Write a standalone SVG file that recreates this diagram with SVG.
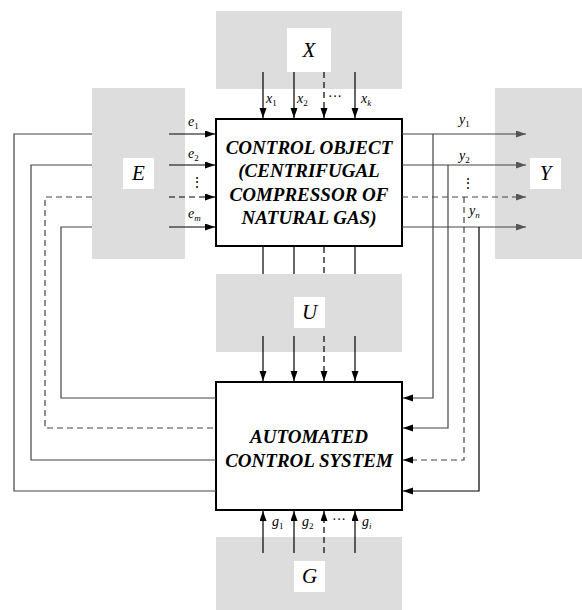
<svg xmlns="http://www.w3.org/2000/svg" width="582" height="610" viewBox="0 0 582 610">
<defs>
<style>
.gray{fill:#dddddd}
.lbl{fill:#ffffff}
.ln{stroke:#000;stroke-width:1.2;fill:none}
.gr{stroke:#444}
.d{stroke-dasharray:6,4}
.box{fill:#fff;stroke:#000;stroke-width:2}
</style>
<marker id="ah" markerUnits="userSpaceOnUse" markerWidth="11" markerHeight="8" refX="10" refY="3.5" orient="auto">
<path d="M0,0 L10,3.5 L0,7 z" fill="#000"/>
</marker>
<marker id="ahg" markerUnits="userSpaceOnUse" markerWidth="11" markerHeight="8" refX="10" refY="3.5" orient="auto">
<path d="M0,0 L10,3.5 L0,7 z" fill="#555"/>
</marker>
</defs>

<g id="X">
<rect class="gray" x="216" y="11" width="186" height="78"/>
<rect class="lbl" x="287" y="28" width="44" height="44"/>
<text x="309" y="57" font-family="Liberation Serif" font-style="italic" font-size="21" text-anchor="middle">X</text>
</g>
<g id="E">
<rect class="gray" x="92" y="88" width="93" height="171"/>
<rect class="lbl" x="123" y="158" width="31" height="31"/>
<text x="138.5" y="180" font-family="Liberation Serif" font-style="italic" font-size="21" text-anchor="middle">E</text>
</g>
<g id="Y">
<rect class="gray" x="495" y="88" width="87" height="171"/>
<rect class="lbl" x="530" y="158" width="31" height="31"/>
<text x="545.5" y="180" font-family="Liberation Serif" font-style="italic" font-size="21" text-anchor="middle">Y</text>
</g>
<g id="U">
<rect class="gray" x="216" y="274" width="186" height="78"/>
<rect class="lbl" x="294" y="297" width="31" height="31"/>
<text x="309.5" y="319" font-family="Liberation Serif" font-style="italic" font-size="21" text-anchor="middle">U</text>
</g>
<g id="G">
<rect class="gray" x="216" y="537" width="186" height="73"/>
<rect class="lbl" x="294" y="561" width="31" height="31"/>
<text x="309.5" y="583" font-family="Liberation Serif" font-style="italic" font-size="21" text-anchor="middle">G</text>
</g>

<g id="control-object">
<rect class="box" x="216" y="119" width="186" height="127"/>
<text x="309" y="154" font-family="Liberation Serif" font-size="19" font-weight="bold" font-style="italic" text-anchor="middle">CONTROL OBJECT</text>
<text x="309" y="177" font-family="Liberation Serif" font-size="19" font-weight="bold" font-style="italic" text-anchor="middle">(CENTRIFUGAL</text>
<text x="309" y="201" font-family="Liberation Serif" font-size="19" font-weight="bold" font-style="italic" text-anchor="middle">COMPRESSOR OF</text>
<text x="309" y="224" font-family="Liberation Serif" font-size="19" font-weight="bold" font-style="italic" text-anchor="middle">NATURAL GAS)</text>
</g>
<g id="acs">
<rect class="box" x="216" y="382" width="186" height="128"/>
<text x="309" y="443" font-family="Liberation Serif" font-size="19" font-weight="bold" font-style="italic" text-anchor="middle">AUTOMATED</text>
<text x="309" y="467" font-family="Liberation Serif" font-size="19" font-weight="bold" font-style="italic" text-anchor="middle">CONTROL SYSTEM</text>
</g>

<g id="connectors">
<path class="ln" d="M263,72 V118" marker-end="url(#ah)"/>
<path class="ln" d="M294,72 V118" marker-end="url(#ah)"/>
<path class="ln d" d="M324,72 V118" marker-end="url(#ah)"/>
<path class="ln" d="M355,72 V118" marker-end="url(#ah)"/>
<path class="ln" d="M169,134 H215" marker-end="url(#ah)"/>
<path class="ln" d="M169,165 H215" marker-end="url(#ah)"/>
<path class="ln d" d="M169,197 H215" marker-end="url(#ah)"/>
<path class="ln" d="M169,227 H215" marker-end="url(#ah)"/>
<path class="ln gr" d="M92,134 H14 V491 H216"/>
<path class="ln gr" d="M92,165 H31 V460 H216"/>
<path class="ln gr d" d="M92,197 H45 V428 H216"/>
<path class="ln gr" d="M92,227 H61 V398 H216"/>
<path class="ln gr" d="M402,134 H526" marker-end="url(#ahg)"/>
<path class="ln gr" d="M402,165 H526" marker-end="url(#ahg)"/>
<path class="ln gr d" d="M402,197 H526" marker-end="url(#ahg)"/>
<path class="ln gr" d="M402,227 H526" marker-end="url(#ahg)"/>
<path class="ln gr" d="M433,134 V398 H403" marker-end="url(#ah)"/>
<path class="ln gr" d="M448,165 V428 H403" marker-end="url(#ah)"/>
<path class="ln gr d" d="M464,197 V460 H403" marker-end="url(#ah)"/>
<path class="ln" d="M479,227 V491 H403" marker-end="url(#ah)"/>
<path class="ln" d="M263,247 V274"/>
<path class="ln" d="M294,247 V274"/>
<path class="ln d" d="M324,247 V274"/>
<path class="ln" d="M355,247 V274"/>
<path class="ln" d="M263,336 V381" marker-end="url(#ah)"/>
<path class="ln" d="M294,336 V381" marker-end="url(#ah)"/>
<path class="ln d" d="M324,336 V381" marker-end="url(#ah)"/>
<path class="ln" d="M355,336 V381" marker-end="url(#ah)"/>
<path class="ln" d="M263,553 V511" marker-end="url(#ah)"/>
<path class="ln" d="M294,553 V511" marker-end="url(#ah)"/>
<path class="ln d" d="M324,553 V511" marker-end="url(#ah)"/>
<path class="ln" d="M355,553 V511" marker-end="url(#ah)"/>
</g>

<g id="labels">
<text x="266" y="103" font-family="Liberation Serif" font-style="italic" font-size="14">x<tspan font-size="9" font-style="normal" dy="3">1</tspan></text>
<text x="297" y="103" font-family="Liberation Serif" font-style="italic" font-size="14">x<tspan font-size="9" font-style="normal" dy="3">2</tspan></text>
<text x="328" y="101" font-family="Liberation Serif" font-size="14">···</text>
<text x="361" y="103" font-family="Liberation Serif" font-style="italic" font-size="14">x<tspan font-size="9" dy="3">k</tspan></text>

<text x="188" y="126" font-family="Liberation Serif" font-style="italic" font-size="14">e<tspan font-size="9" font-style="normal" dy="3">1</tspan></text>
<text x="188" y="158" font-family="Liberation Serif" font-style="italic" font-size="14">e<tspan font-size="9" font-style="normal" dy="3">2</tspan></text>
<text x="190" y="187" font-family="Liberation Serif" font-size="14">⋮</text>
<text x="188" y="218" font-family="Liberation Serif" font-style="italic" font-size="14">e<tspan font-size="9" dy="3">m</tspan></text>

<text x="459" y="124" font-family="Liberation Serif" font-style="italic" font-size="14">y<tspan font-size="9" font-style="normal" dy="3">1</tspan></text>
<text x="459" y="160" font-family="Liberation Serif" font-style="italic" font-size="14">y<tspan font-size="9" font-style="normal" dy="3">2</tspan></text>
<text x="461" y="188" font-family="Liberation Serif" font-size="14">⋮</text>
<text x="469" y="215" font-family="Liberation Serif" font-style="italic" font-size="14">y<tspan font-size="9" dy="3">n</tspan></text>

<text x="272" y="526" font-family="Liberation Serif" font-style="italic" font-size="14">g<tspan font-size="9" font-style="normal" dy="3">1</tspan></text>
<text x="302" y="526" font-family="Liberation Serif" font-style="italic" font-size="14">g<tspan font-size="9" font-style="normal" dy="3">2</tspan></text>
<text x="332" y="524" font-family="Liberation Serif" font-size="14">···</text>
<text x="362" y="526" font-family="Liberation Serif" font-style="italic" font-size="14">g<tspan font-size="9" dy="3">i</tspan></text>
</g>
</svg>
